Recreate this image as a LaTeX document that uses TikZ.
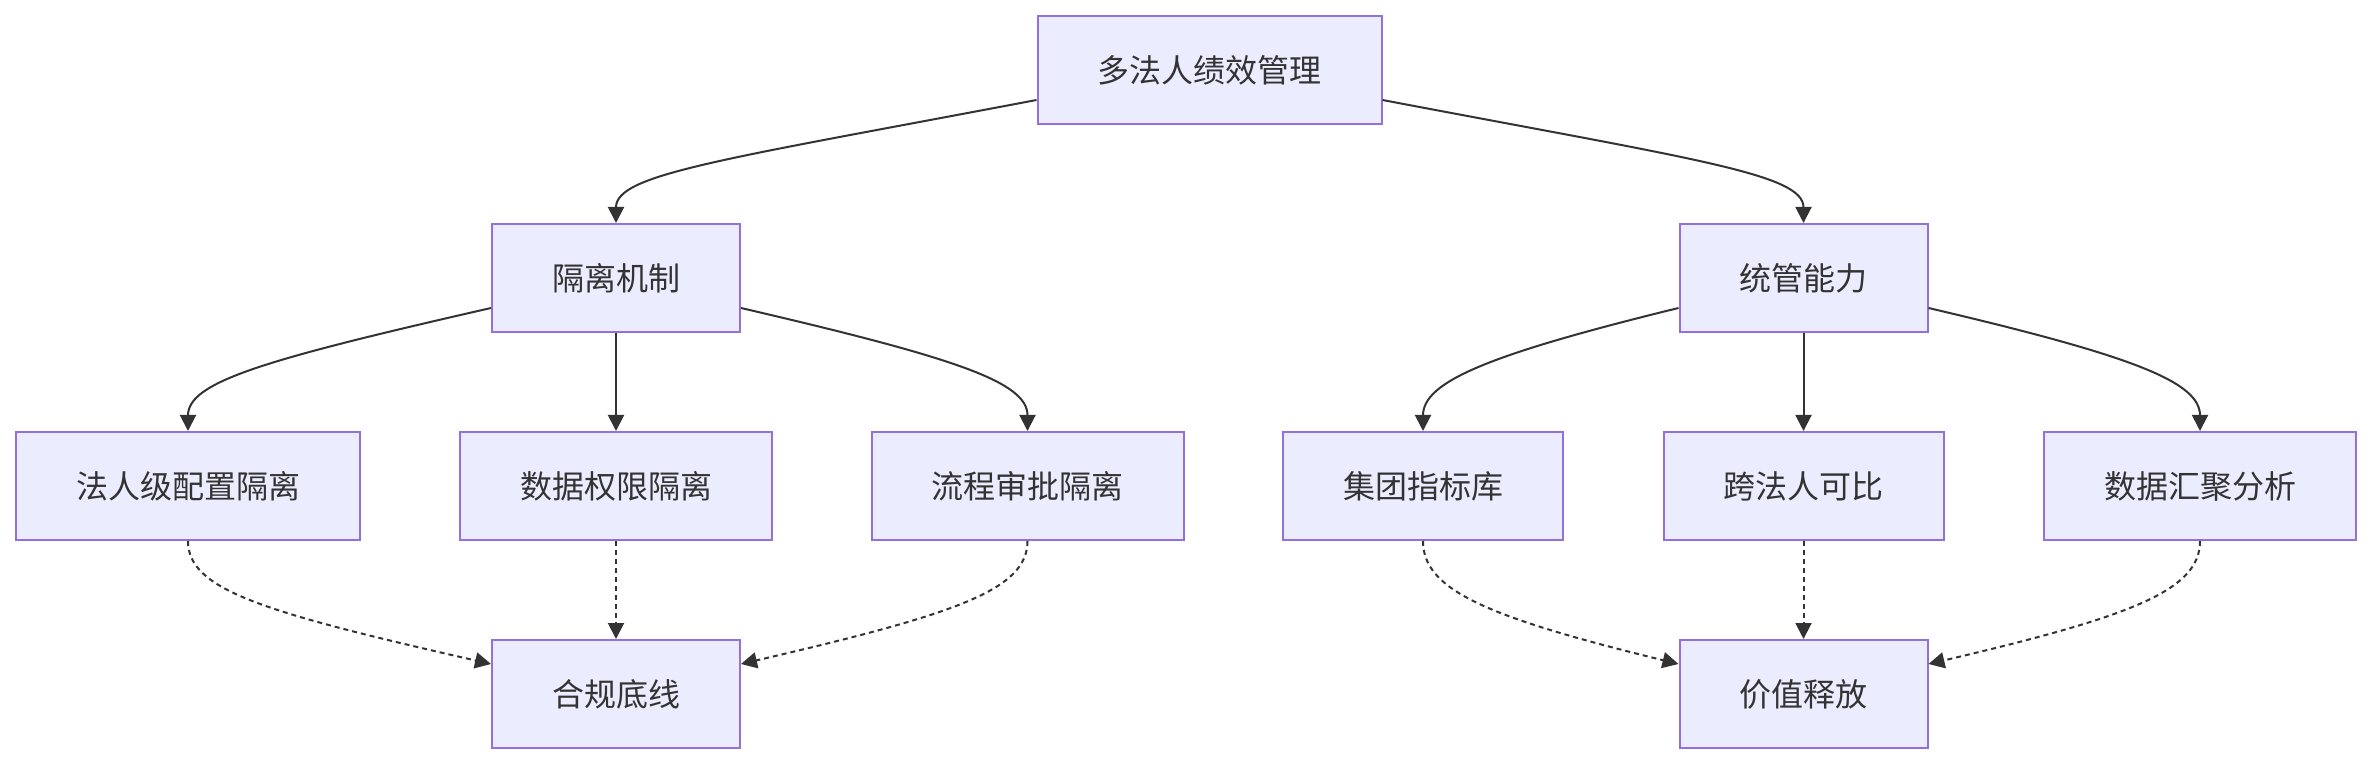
\documentclass[tikz,border=0pt]{standalone}
\usepackage{fontspec}
\usepackage{tikz}
\usepackage{xcolor}
\usetikzlibrary{positioning, arrows.meta, calc}
\setmainfont{Noto Sans CJK SC}
\definecolor{cBoxFill}{HTML}{ECECFF}
\definecolor{cBoxLine}{HTML}{9370DB}
\definecolor{cText}   {HTML}{333333}
\tikzset{
  box/.style={draw=cBoxLine, fill=cBoxFill, line width=1pt, text=cText,
              inner xsep=30pt, minimum height=54pt,
              font=\fontsize{16pt}{19pt}\selectfont},
  flow/.style={draw=cText, line width=1pt, -{Triangle[length=8pt, width=8pt]}},
  dotflow/.style={flow, dash pattern=on 2.5pt off 2pt},
}

\begin{document}
\begin{tikzpicture}
        \useasboundingbox (0,0) rectangle (1186pt,-382pt);
        % root
        \node[box] (root) at (604.75pt, -35pt) {多法人绩效管理};
        % two branches
        \node[box] (iso) at (308pt, -139pt) {隔离机制};
        \node[box] (ctl) at (901.75pt, -139pt) {统管能力};
        % leaves
        \node[box] (cfg) at (94pt, -243pt) {法人级配置隔离};
        \node[box] (dat) at (308pt, -243pt) {数据权限隔离};
        \node[box] (flw) at (513.75pt, -243pt) {流程审批隔离};
        \node[box] (idx) at (711.5pt, -243pt) {集团指标库};
        \node[box] (cmp) at (901.75pt, -243pt) {跨法人可比};
        \node[box] (agg) at (1100pt, -243pt) {数据汇聚分析};
        % outcomes
        \node[box] (base) at (308pt, -347pt) {合规底线};
        \node[box] (gain) at (901.75pt, -347pt) {价值释放};
        % root to branches
        \draw[flow] ([yshift=-15pt]root.west) .. controls +(-158pt,-30pt) and +(0,24.5pt) .. (iso.north);
        \draw[flow] ([yshift=-15pt]root.east) .. controls +(158pt,-30pt) and +(0,24.5pt) .. (ctl.north);
        % branches to leaves
        \draw[flow] ([yshift=-15pt]iso.west) .. controls +(-114pt,-26pt) and +(0,24.5pt) .. (cfg.north);
        \draw[flow] (iso.south) -- (dat.north);
        \draw[flow] ([yshift=-15pt]iso.east) .. controls +(107.5pt,-25pt) and +(0,24.5pt) .. (flw.north);
        \draw[flow] ([yshift=-15pt]ctl.west) .. controls +(-96pt,-23.5pt) and +(0,24.5pt) .. (idx.north);
        \draw[flow] (ctl.south) -- (cmp.north);
        \draw[flow] ([yshift=-15pt]ctl.east) .. controls +(102.5pt,-24pt) and +(0,24.5pt) .. (agg.north);
        % leaves to outcomes
        \draw[dotflow] (cfg.south) .. controls +(0,-24.5pt) and +(-114pt,26pt) .. ([yshift=15pt]base.west);
        \draw[dotflow] (dat.south) -- (base.north);
        \draw[dotflow] (flw.south) .. controls +(0,-24.5pt) and +(107.5pt,25pt) .. ([yshift=15pt]base.east);
        \draw[dotflow] (idx.south) .. controls +(0,-24.5pt) and +(-96pt,23.5pt) .. ([yshift=15pt]gain.west);
        \draw[dotflow] (cmp.south) -- (gain.north);
        \draw[dotflow] (agg.south) .. controls +(0,-24.5pt) and +(102.5pt,24pt) .. ([yshift=15pt]gain.east);
      \end{tikzpicture}
\end{document}
